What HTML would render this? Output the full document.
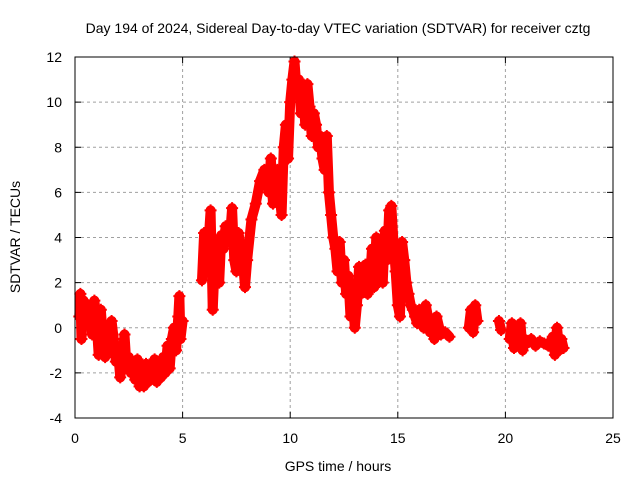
<!DOCTYPE html>
<html><head><meta charset="utf-8"><style>
body{margin:0;background:#fff;}
svg{display:block;font-family:"Liberation Sans",sans-serif;}
</style></head><body>
<svg id="chart" width="640" height="480">
<text x="338" y="33" font-size="14" text-anchor="middle">Day 194 of 2024, Sidereal Day-to-day VTEC variation (SDTVAR) for receiver cztg</text>
<text x="338" y="471" font-size="14" text-anchor="middle">GPS time / hours</text>
<text transform="translate(20,237) rotate(-90)" font-size="14" text-anchor="middle">SDTVAR / TECUs</text>
<g id="grid"></g>
<g id="ticks"></g>
<g id="series"></g>
<rect x="75" y="57" width="538" height="361" fill="none" stroke="#000" stroke-width="1"/>
</svg>
<script>
const xTicks=[0,5,10,15,20,25];
const yTicks=[-4,-2,0,2,4,6,8,10,12];
const times=[0.2,0.25,0.3,0.4,0.5,0.6,0.7,0.8,0.9,1.0,1.1,1.2,1.3,1.4,1.5,1.6,1.7,1.8,1.9,2.0,2.1,2.2,2.3,2.4,2.5,2.6,2.7,2.8,2.9,3.0,3.1,3.2,3.3,3.4,3.5,3.6,3.7,3.8,3.9,4.0,4.1,4.2,4.3,4.4,4.5,4.6,4.7,4.8,4.85,4.9,5.0,
5.9,6.0,6.1,6.2,6.3,6.4,6.5,6.6,6.7,6.8,6.9,7.0,7.1,7.2,7.3,7.4,7.5,7.6,7.7,7.8,7.9,8.0,8.2,8.4,8.6,8.8,9.0,9.1,9.2,9.4,9.5,9.6,9.7,9.8,9.9,10.0,10.1,10.2,10.3,10.4,10.5,10.6,10.7,10.8,10.9,11.0,11.1,11.2,11.3,11.4,11.5,11.6,11.7,11.8,11.9,12.0,12.1,12.2,12.3,12.4,12.5,12.6,12.7,12.8,12.9,13.0,13.1,13.2,13.3,13.5,13.6,13.7,13.8,13.9,14.0,14.1,14.2,14.3,14.4,14.5,14.6,14.7,14.8,14.9,15.0,15.1,15.2,15.3,15.4,15.5,15.6,15.7,15.8,15.9,16.0,16.1,16.2,16.3,16.4,16.5,16.6,16.7,16.8,17.0,17.2,17.4,
18.3,18.4,18.5,18.6,18.7,19.7,19.8,20.2,20.3,20.4,20.5,20.6,20.7,20.8,20.9,21.0,21.2,21.4,21.6,21.8,22.0,22.2,22.3,22.4,22.5,22.6,22.7];
const values=[0.5,1.5,-0.5,1.2,0.3,1.0,0.5,-0.3,1.2,0.3,-1.2,0.8,-0.5,-1.3,-0.8,-0.2,0.3,-0.5,-1.5,-1.0,-2.2,-1.5,-0.3,-1.8,-1.3,-2.0,-1.6,-2.3,-1.4,-2.6,-2.0,-2.6,-1.6,-2.4,-1.8,-2.2,-1.4,-2.4,-1.9,-2.2,-1.3,-2.0,-0.8,-1.8,-0.5,0.0,-1.0,0.5,1.4,-0.5,0.3,
2.1,4.2,2.5,3.7,5.2,0.8,3.0,3.8,2.0,4.1,3.5,4.5,3.8,4.0,5.3,3.0,2.5,4.2,3.5,3.0,1.8,3.0,4.8,5.5,6.5,7.0,6.0,7.5,5.5,7.0,6.0,5.0,8.0,9.0,7.5,10.0,11.0,11.8,10.5,11.0,9.5,10.5,9.0,10.8,9.8,8.5,9.5,9.0,8.0,8.5,7.5,7.0,8.5,6.0,5.0,4.0,3.5,2.5,3.8,2.0,3.0,1.5,2.3,0.5,1.5,0.0,1.0,2.7,1.5,2.8,1.5,2.0,3.5,1.8,4.0,2.5,3.8,2.0,4.3,3.0,5.2,5.4,3.8,2.5,1.0,0.5,3.8,3.0,2.0,1.5,1.0,0.8,0.5,0.2,0.8,0.3,0.0,1.0,0.5,-0.2,0.0,-0.5,0.5,-0.3,-0.2,-0.4,
0.0,0.8,-0.2,1.0,0.3,0.3,-0.1,-0.5,0.2,-0.9,0.0,-0.5,0.2,-1.0,-0.5,-0.7,-0.5,-0.8,-0.6,-0.7,-0.8,-0.4,-1.2,0.0,-1.0,-0.5,-0.9];
const X0=75,X1=613,Y0=418,Y1=57;
function xs(t){return X0+(t-0)/(25-0)*(X1-X0);}
function ys(v){return Y0-(v+4)/16*(Y0-Y1);}
const NS="http://www.w3.org/2000/svg";
function mk(tag,attrs,parent){const e=document.createElementNS(NS,tag);for(const k in attrs)e.setAttribute(k,attrs[k]);parent.appendChild(e);return e;}
const grid=document.getElementById('grid'),ticks=document.getElementById('ticks'),ser=document.getElementById('series');
xTicks.forEach(t=>{const x=xs(t);
 if(t>0&&t<25){const g=mk('line',{x1:x,x2:x,y1:Y1,y2:Y0,stroke:'#a0a0a0','stroke-dasharray':'3,3'},grid);}
 mk('line',{x1:x,x2:x,y1:Y0,y2:Y0-6,stroke:'#000'},ticks);mk('line',{x1:x,x2:x,y1:Y1,y2:Y1+6,stroke:'#000'},ticks);
 const l=mk('text',{x:x,y:443,'font-size':14,'text-anchor':'middle'},ticks);l.textContent=t;
 
 });
yTicks.forEach(v=>{const y=ys(v);
 if(v>-4&&v<12){const g=mk('line',{x1:X0,x2:X1,y1:y,y2:y,stroke:'#a0a0a0','stroke-dasharray':'3,3'},grid);}
 mk('line',{x1:X0,x2:X0+6,y1:y,y2:y,stroke:'#000'},ticks);mk('line',{x1:X1,x2:X1-6,y1:y,y2:y,stroke:'#000'},ticks);
 const l=mk('text',{x:62,y:y+5,'font-size':14,'text-anchor':'end'},ticks);l.textContent=v;
 
 });
for(let i=1;i<times.length;i++){
 if(times[i]-times[i-1]<=0.25){
  const s=mk('line',{x1:xs(times[i-1]),y1:ys(values[i-1]),x2:xs(times[i]),y2:ys(values[i]),stroke:'#ff0000','stroke-width':10,'stroke-linecap':'round'},ser);
  
  
 }
}
times.forEach((t,i)=>{const x=xs(t),y=ys(values[i]);
 const p=mk('path',{d:`M${x-6},${y}H${x+6}M${x},${y-6}V${y+6}`,stroke:'#ff0000','stroke-width':2},ser);
 
 });
</script>
</body></html>
